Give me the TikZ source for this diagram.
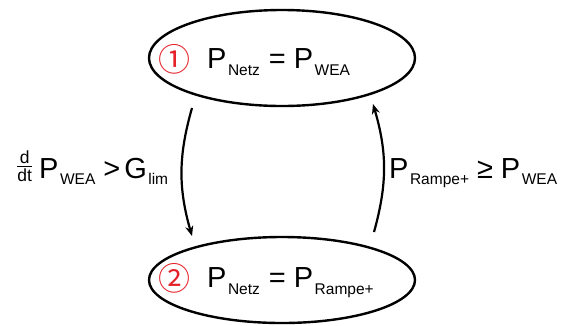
\documentclass[tikz,border=0pt]{standalone}
\usepackage{amsmath}
\usepackage{fontspec}
\setmainfont{Liberation Sans}
\newfontfamily\symfont{Noto Sans CJK SC}
\usetikzlibrary{shapes.geometric,arrows.meta}
\definecolor{numred}{RGB}{228,32,40}
\newcommand{\Sb}[1]{\hspace{1.5pt}\raisebox{-7pt}{\fontsize{15.5}{15.5}\selectfont #1}}
\newcommand{\Sbs}[1]{\hspace{1.5pt}\raisebox{-6pt}{\fontsize{15.5}{15.5}\selectfont #1}}
\newcommand{\ddtfrac}{\raisebox{5pt}{$\genfrac{}{}{0.9pt}{}{\mbox{\fontsize{17.5}{17.5}\selectfont d}}{\mbox{\fontsize{17.5}{17.5}\selectfont dt}}$}}
\begin{document}
\begin{tikzpicture}[x=1pt,y=-1pt,
  statebox/.style={draw=black,line width=2.4pt,ellipse,inner sep=0pt},
  eqtext/.style={anchor=base west,inner sep=0pt,font=\fontsize{29}{29}\selectfont},
  lbltext/.style={anchor=base west,inner sep=0pt,font=\fontsize{29}{29}\selectfont},
  numtext/.style={inner sep=0pt,text=numred,font=\symfont\fontsize{32}{32}\selectfont},
  trans/.style={line width=2.2pt,-{Stealth[length=10pt,width=8pt]}}]
\useasboundingbox (0,0) rectangle (561,325);
\node[statebox,minimum width=266pt,minimum height=96pt] (s1) at (282,58) {};
\node[statebox,minimum width=266pt,minimum height=86pt] (s2) at (282,280) {};
\node[numtext] (n1) at (174,59) {①};
\node[numtext] (n2) at (174,278) {②};
\node[eqtext] (e1) at (207,68) {P\Sb{Netz}\hspace{9pt}=\hspace{8pt}P\Sb{WEA}};
\node[eqtext] (e2) at (207,287) {P\Sb{Netz}\hspace{9pt}=\hspace{8pt}P\Sb{Rampe+}};
\node[lbltext] (l1) at (16,178) {\ddtfrac\hspace{6pt}P\Sbs{WEA}\hspace{8pt}>\hspace{4pt}G\Sbs{lim}};
\node[lbltext] (l2) at (389,178) {P\Sbs{Rampe+}\hspace{8pt}≥\hspace{8pt}P\Sbs{WEA}};
\coordinate (a1) at (192,108);
\coordinate (a2) at (192,236);
\coordinate (b1) at (374,232);
\coordinate (b2) at (373,104);
\draw[trans] (a1) to[bend right=16] (a2);
\draw[trans] (b1) to[bend right=16] (b2);
\end{tikzpicture}
\end{document}
